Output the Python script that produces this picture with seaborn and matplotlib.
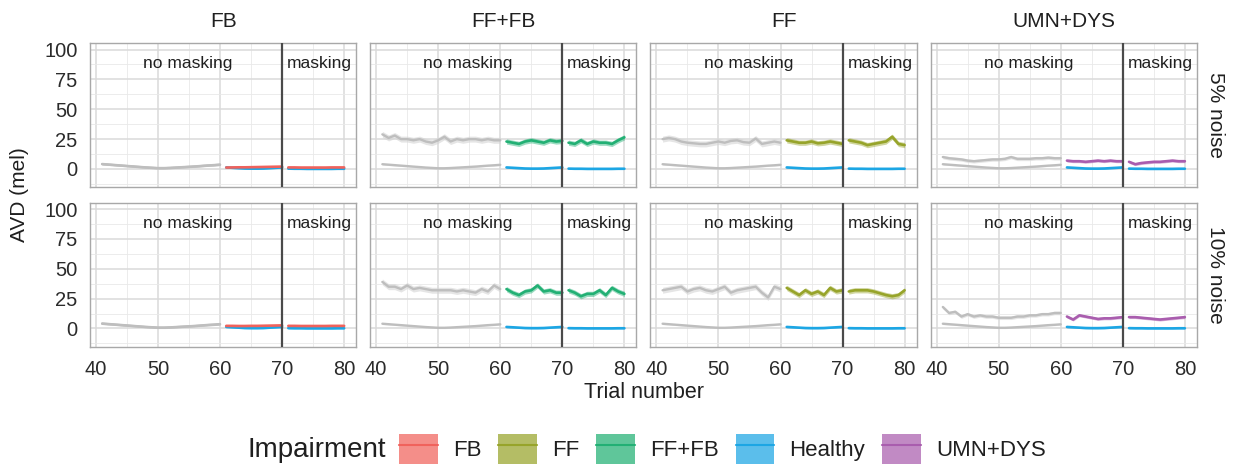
import matplotlib
matplotlib.use("Agg")
import matplotlib.pyplot as plt
import seaborn as sns
from matplotlib.patches import Patch
from matplotlib.lines import Line2D
from matplotlib.ticker import MultipleLocator

# ---------------- data ----------------
impairments = ["FB", "FF+FB", "FF", "UMN+DYS"]
noise_levels = ["5% noise", "10% noise"]
legend_order = ["FB", "FF", "FF+FB", "Healthy", "UMN+DYS"]
x_ticks = [40, 50, 60, 70, 80]
y_ticks = [0, 25, 50, 75, 100]

trials_pre = list(range(41, 61))
trials_nomask = list(range(61, 71))
trials_mask = list(range(71, 81))

# Healthy reference (same in every panel of a row)
healthy_5_pre = [4.0, 3.6, 3.2, 2.8, 2.4, 2.0, 1.6, 1.2, 0.9, 0.6, 0.6, 0.8, 1.1, 1.4, 1.7, 2.0, 2.4, 2.8, 3.1, 3.5]
healthy_5_nomask = [1.3, 1.0, 0.7, 0.4, 0.3, 0.3, 0.4, 0.7, 1.0, 1.3]
healthy_5_mask = [0.3, 0.2, 0.2, 0.1, 0.1, 0.1, 0.1, 0.1, 0.2, 0.2]
healthy_10_pre = [4.0, 3.6, 3.2, 2.8, 2.4, 2.0, 1.6, 1.2, 0.9, 0.6, 0.6, 0.8, 1.1, 1.4, 1.7, 2.0, 2.4, 2.8, 3.1, 3.5]
healthy_10_nomask = [1.3, 1.0, 0.7, 0.4, 0.3, 0.3, 0.4, 0.7, 1.0, 1.3]
healthy_10_mask = [0.3, 0.2, 0.2, 0.1, 0.1, 0.1, 0.1, 0.1, 0.2, 0.2]

# 5% noise
fb_5_pre = [4.2, 3.8, 3.4, 3.0, 2.6, 2.2, 1.8, 1.4, 1.1, 0.8, 0.8, 1.0, 1.3, 1.6, 1.9, 2.2, 2.6, 3.0, 3.3, 3.7]
fb_5_nomask = [1.2, 1.3, 1.4, 1.4, 1.5, 1.6, 1.7, 1.8, 1.9, 2.0]
fb_5_mask = [1.3, 1.3, 1.2, 1.2, 1.2, 1.2, 1.2, 1.3, 1.3, 1.3]
fffb_5_pre = [29, 26, 28, 25, 25, 24, 25, 23, 22, 24, 27, 23, 25, 24, 25, 25, 24, 25, 24, 24]
fffb_5_nomask = [23, 22, 21, 23, 24, 23, 22, 24, 23, 23.5]
fffb_5_mask = [22, 21, 24, 21, 23, 22, 22, 21, 24, 26.5]
ff_5_pre = [25, 26, 25, 23, 22, 21.5, 21, 21, 22, 23, 22, 23.5, 24, 22.5, 22, 25.5, 21, 22, 23, 22]
ff_5_nomask = [24, 23, 22, 22, 23, 21.5, 22, 23, 22, 21]
ff_5_mask = [24, 23, 22, 20, 21, 22, 23, 27, 21, 20]
umn_5_pre = [10, 9, 8.5, 8, 7, 6.5, 7, 7.5, 8, 8, 8.5, 10, 8.5, 8.5, 8.5, 9, 9, 9.5, 9, 9]
umn_5_nomask = [7, 6.5, 6.5, 6, 6.5, 7, 6.5, 7, 6.5, 6.5]
umn_5_mask = [6, 4, 5, 5.5, 6, 6, 6.5, 7, 6.5, 6.5]

# 10% noise
fb_10_pre = [4.2, 3.8, 3.4, 3.0, 2.6, 2.2, 1.8, 1.4, 1.1, 0.8, 0.8, 1.0, 1.3, 1.6, 1.9, 2.2, 2.6, 3.0, 3.3, 3.7]
fb_10_nomask = [2.2, 2.2, 2.1, 2.1, 2.2, 2.2, 2.3, 2.4, 2.5, 2.6]
fb_10_mask = [2.2, 2.2, 2.1, 2.1, 2.1, 2.1, 2.1, 2.2, 2.2, 2.2]
fffb_10_pre = [39, 35, 35, 33, 36, 33, 34, 33, 32, 32, 32, 32, 31, 32, 31, 30, 33, 31, 36, 33]
fffb_10_nomask = [33, 30, 28, 31, 32, 36, 31, 32, 30, 30]
fffb_10_mask = [32, 30, 27, 29, 29, 32, 28, 34, 31, 29]
ff_10_pre = [32, 33, 34, 35, 31, 33, 34, 32, 31, 33, 35, 30, 32, 33, 34, 35, 30, 26, 35, 33]
ff_10_nomask = [34, 31, 28, 32, 29, 31, 28, 34, 31, 32]
ff_10_mask = [31, 32, 32, 32, 31, 29.5, 28, 27, 28, 32]
umn_10_pre = [18, 13, 14, 10, 12, 10, 11, 10, 10, 9, 9, 9, 10, 10, 11, 11, 12, 12, 13, 13]
umn_10_nomask = [10, 7.5, 11, 10, 9, 8, 8.5, 8.5, 9, 9.5]
umn_10_mask = [9.5, 9.5, 9, 8.5, 8, 7.5, 8, 8.5, 9, 9.5]

# ribbon half-widths (confidence band)
band_pre = {"FB": 0.8, "FF+FB": 2.5, "FF": 2.5, "UMN+DYS": 1.5}
band_imp = {"FB": 0.8, "FF+FB": 2.2, "FF": 2.2, "UMN+DYS": 1.2}
band_healthy = 0.7

series = {
    ("5% noise", "FB"): (fb_5_pre, fb_5_nomask, fb_5_mask),
    ("5% noise", "FF+FB"): (fffb_5_pre, fffb_5_nomask, fffb_5_mask),
    ("5% noise", "FF"): (ff_5_pre, ff_5_nomask, ff_5_mask),
    ("5% noise", "UMN+DYS"): (umn_5_pre, umn_5_nomask, umn_5_mask),
    ("10% noise", "FB"): (fb_10_pre, fb_10_nomask, fb_10_mask),
    ("10% noise", "FF+FB"): (fffb_10_pre, fffb_10_nomask, fffb_10_mask),
    ("10% noise", "FF"): (ff_10_pre, ff_10_nomask, ff_10_mask),
    ("10% noise", "UMN+DYS"): (umn_10_pre, umn_10_nomask, umn_10_mask),
}
healthy = {
    "5% noise": (healthy_5_pre, healthy_5_nomask, healthy_5_mask),
    "10% noise": (healthy_10_pre, healthy_10_nomask, healthy_10_mask),
}

# ---------------- style ----------------
sns.set_theme(style="white")
plt.rcParams["font.family"] = ["Liberation Sans", "DejaVu Sans"]

colors = {
    "FB": "#F0625C",
    "FF": "#97A42A",
    "FF+FB": "#22B074",
    "Healthy": "#1CA6E4",
    "UMN+DYS": "#A95DAE",
}
gray_line = "#BEBEBE"
gray_band = "#D4D4D4"
text_col = "#1F1F1F"

fig = plt.figure(figsize=(12.35, 4.7), dpi=100)
axes = fig.subplots(2, 4, sharex=True, sharey=True)
fig.subplots_adjust(left=0.0729, right=0.9692, top=0.9085, bottom=0.2617,
                    wspace=0.0526, hspace=0.104)


def band(ax, x, y, hw, color, alpha):
    ax.fill_between(x, [v - hw for v in y], [v + hw for v in y],
                    color=color, alpha=alpha, lw=0, zorder=2)


for i, noise in enumerate(noise_levels):
    for j, imp in enumerate(impairments):
        ax = axes[i, j]
        pre, nomask, mask = series[(noise, imp)]
        h_pre, h_nomask, h_mask = healthy[noise]
        c = colors[imp]
        ch = colors["Healthy"]

        # gray pre-phase
        band(ax, trials_pre, h_pre, band_healthy, gray_band, 0.6)
        band(ax, trials_pre, pre, band_pre[imp], gray_band, 0.6)
        sns.lineplot(x=trials_pre, y=h_pre, color=gray_line, lw=1.7, ax=ax, zorder=3)
        sns.lineplot(x=trials_pre, y=pre, color=gray_line, lw=1.7, ax=ax, zorder=3)

        # healthy coloured phases
        for tx, ty in ((trials_nomask, h_nomask), (trials_mask, h_mask)):
            band(ax, tx, ty, band_healthy, ch, 0.35)
            sns.lineplot(x=tx, y=ty, color=ch, lw=1.9, ax=ax, zorder=4)
        # impaired coloured phases
        for tx, ty in ((trials_nomask, nomask), (trials_mask, mask)):
            band(ax, tx, ty, band_imp[imp], c, 0.45)
            sns.lineplot(x=tx, y=ty, color=c, lw=1.9, ax=ax, zorder=5)

        ax.axvline(70, color="#4A4A4A", lw=1.6, zorder=6)
        ax.text(54.8, 88, "no masking", ha="center", va="center",
                fontsize=12.5, color=text_col, zorder=7)
        ax.text(76, 88, "masking", ha="center", va="center",
                fontsize=12.5, color=text_col, zorder=7)

        ax.set_xlim(39.05, 81.95)
        ax.set_ylim(-15.5, 105.5)
        ax.set_xticks(x_ticks)
        ax.set_yticks(y_ticks)
        ax.xaxis.set_minor_locator(MultipleLocator(5))
        ax.yaxis.set_minor_locator(MultipleLocator(12.5))
        ax.grid(which="major", color="#DADADA", lw=1.1)
        ax.grid(which="minor", color="#E9E9E9", lw=0.6)
        ax.set_axisbelow(True)
        ax.tick_params(which="both", length=0, pad=9, labelsize=14.5,
                       labelcolor="#2B2B2B")
        for s in ax.spines.values():
            s.set_visible(True)
            s.set_color("#A8A8A8")
            s.set_linewidth(1.0)
        ax.set_xlabel("")
        ax.set_ylabel("")

        if i == 0:
            ax.text(0.5, 1 + 22 / 144.5, imp, transform=ax.transAxes,
                    ha="center", va="center", fontsize=15, color=text_col)
        if j == 3:
            ax.text(1 + 19 / 266.0, 0.5, noise, transform=ax.transAxes,
                    ha="center", va="center", rotation=270, fontsize=15,
                    color=text_col)

fig.text(20 / 1235, 1 - 195 / 470, "AVD (mel)", rotation=90, ha="center",
         va="center", fontsize=15, color=text_col)
fig.text(643.5 / 1235, 1 - 393 / 470, "Trial number", ha="center",
         va="center", fontsize=15.5, color=text_col)

handles = [(Patch(facecolor=colors[k], alpha=0.72, edgecolor="none"),
            Line2D([], [], color=colors[k], lw=1.5)) for k in legend_order]
fig.text(247 / 1235, 1 - 450 / 470, "Impairment", ha="left", va="center",
         fontsize=20, color=text_col)
fig.legend(handles, legend_order, loc="center left",
           bbox_to_anchor=(399 / 1235, 1 - 449 / 470), ncol=5, frameon=False,
           fontsize=16, handlelength=1.75, handleheight=1.7,
           handletextpad=0.68, columnspacing=0.75, borderpad=0,
           borderaxespad=0, labelcolor=text_col)

fig.savefig("out.png", dpi=100)
